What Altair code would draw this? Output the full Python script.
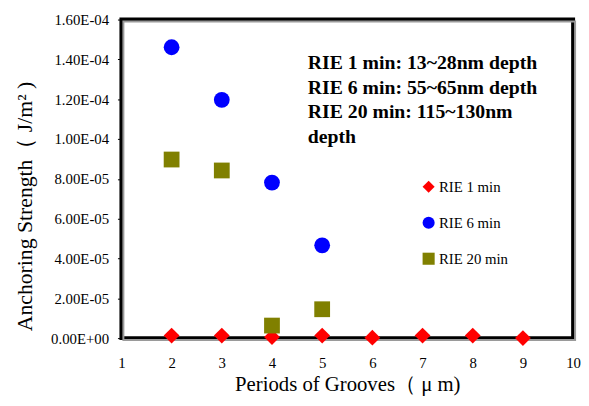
import altair as alt
import pandas as pd

# ---- data ----
periods_rie1 = [2, 3, 4, 5, 6, 7, 8, 9]
rie1 = [1.3e-6, 1.3e-6, 5e-7, 1.3e-6, 2e-7, 1.3e-6, 1.3e-6, 0.0]
periods_rie6 = [2, 3, 4, 5]
rie6 = [1.461e-4, 1.197e-4, 7.81e-5, 4.66e-5]
periods_rie20 = [2, 3, 4, 5]
rie20 = [8.97e-5, 8.42e-5, 6.3e-6, 1.45e-5]

series_names = ["RIE 1 min", "RIE 6 min", "RIE 20 min"]
series_colors = ["#FF0000", "#0000FF", "#808000"]
series_shapes = ["diamond", "circle", "square"]

x_ticks = [1, 2, 3, 4, 5, 6, 7, 8, 9, 10]
y_ticks = [0, 2e-5, 4e-5, 6e-5, 8e-5, 1e-4, 1.2e-4, 1.4e-4, 1.6e-4]
y_tick_labels = ["0.00E+00", "2.00E-05", "4.00E-05", "6.00E-05", "8.00E-05",
                 "1.00E-04", "1.20E-04", "1.40E-04", "1.60E-04"]

note_lines = ["RIE 1 min: 13~28nm depth",
              "RIE 6 min: 55~65nm depth",
              "RIE 20 min: 115~130nm",
              "depth"]

FONT = "Liberation Serif"
W, H = 458, 323

rows = []
for name, xs, ys in [(series_names[0], periods_rie1, rie1),
                     (series_names[1], periods_rie6, rie6),
                     (series_names[2], periods_rie20, rie20)]:
    for xv, yv in zip(xs, ys):
        rows.append({"series": name, "period": xv, "strength": yv})
df = pd.DataFrame(rows)
df["order"] = df["series"].map({n: i for i, n in enumerate(series_names)})

# label expression built from tick lists
expr = ""
for i in range(len(y_ticks) - 1):
    mid = (y_ticks[i] + y_ticks[i + 1]) / 2
    expr += f"datum.value < {mid} ? '{y_tick_labels[i]}' : "
expr += f"'{y_tick_labels[-1]}'"

color_scale = alt.Scale(domain=series_names, range=series_colors)
shape_scale = alt.Scale(domain=series_names, range=series_shapes)

legend = alt.Legend(
    title=None, orient="none", legendX=304, legendY=162,
    labelFont=FONT, labelFontSize=15, labelColor="black",
    symbolSize=150, rowPadding=20.5, symbolStrokeWidth=0,
    labelOffset=3,
)

points = alt.Chart(df).mark_point(filled=True, size=256, opacity=1).encode(
    x=alt.X("period:Q",
            scale=alt.Scale(domain=[1, 10], nice=False, zero=False),
            axis=alt.Axis(values=x_ticks, title="Periods of Grooves（ μ m)",
                          ticks=False, domain=False, grid=False,
                          labelPadding=18, labelFontSize=15, labelFont=FONT,
                          labelColor="black", titleFont=FONT, titleFontSize=21,
                          titleFontWeight="normal", titleColor="black",
                          titlePadding=3, labelFlush=False)),
    y=alt.Y("strength:Q",
            scale=alt.Scale(domain=[0, 1.6e-4], nice=False),
            axis=alt.Axis(values=y_ticks, labelExpr=expr,
                          title="Anchoring Strength（ J/m² )",
                          ticks=True, tickSize=4, tickColor="black", tickWidth=1,
                          domain=False, grid=False, labelPadding=9,
                          labelFontSize=15, labelFont=FONT, labelColor="black",
                          titleFont=FONT, titleFontSize=22, titleFontWeight="normal",
                          titleColor="black", titleX=-86, titleY=189)),
    color=alt.Color("series:N", scale=color_scale, legend=legend),
    shape=alt.Shape("series:N", scale=shape_scale, legend=legend),
    order=alt.Order("order:Q"),
)

notes = alt.Chart(pd.DataFrame({"t": [0]})).mark_text(
    text=note_lines, align="left", baseline="alphabetic", font=FONT,
    fontSize=20, fontWeight="bold", lineHeight=25, color="black",
).encode(x=alt.value(189), y=alt.value(50))

shadow = alt.Chart(pd.DataFrame({"t": [0]})).mark_rect(
    fill=None, stroke="#9a9a9a", strokeWidth=2,
).encode(x=alt.value(2), x2=alt.value(W + 2), y=alt.value(2), y2=alt.value(H + 2))

chart = alt.layer(shadow, points, notes).properties(
    width=W, height=H,
    autosize=alt.AutoSizeParams(type="none"),
    padding={"left": 115, "top": 9, "right": 8, "bottom": 58},
    background="white",
).configure_view(stroke="black", strokeWidth=4)

chart.save("out.html", embed_options={"renderer": "svg", "actions": False})
